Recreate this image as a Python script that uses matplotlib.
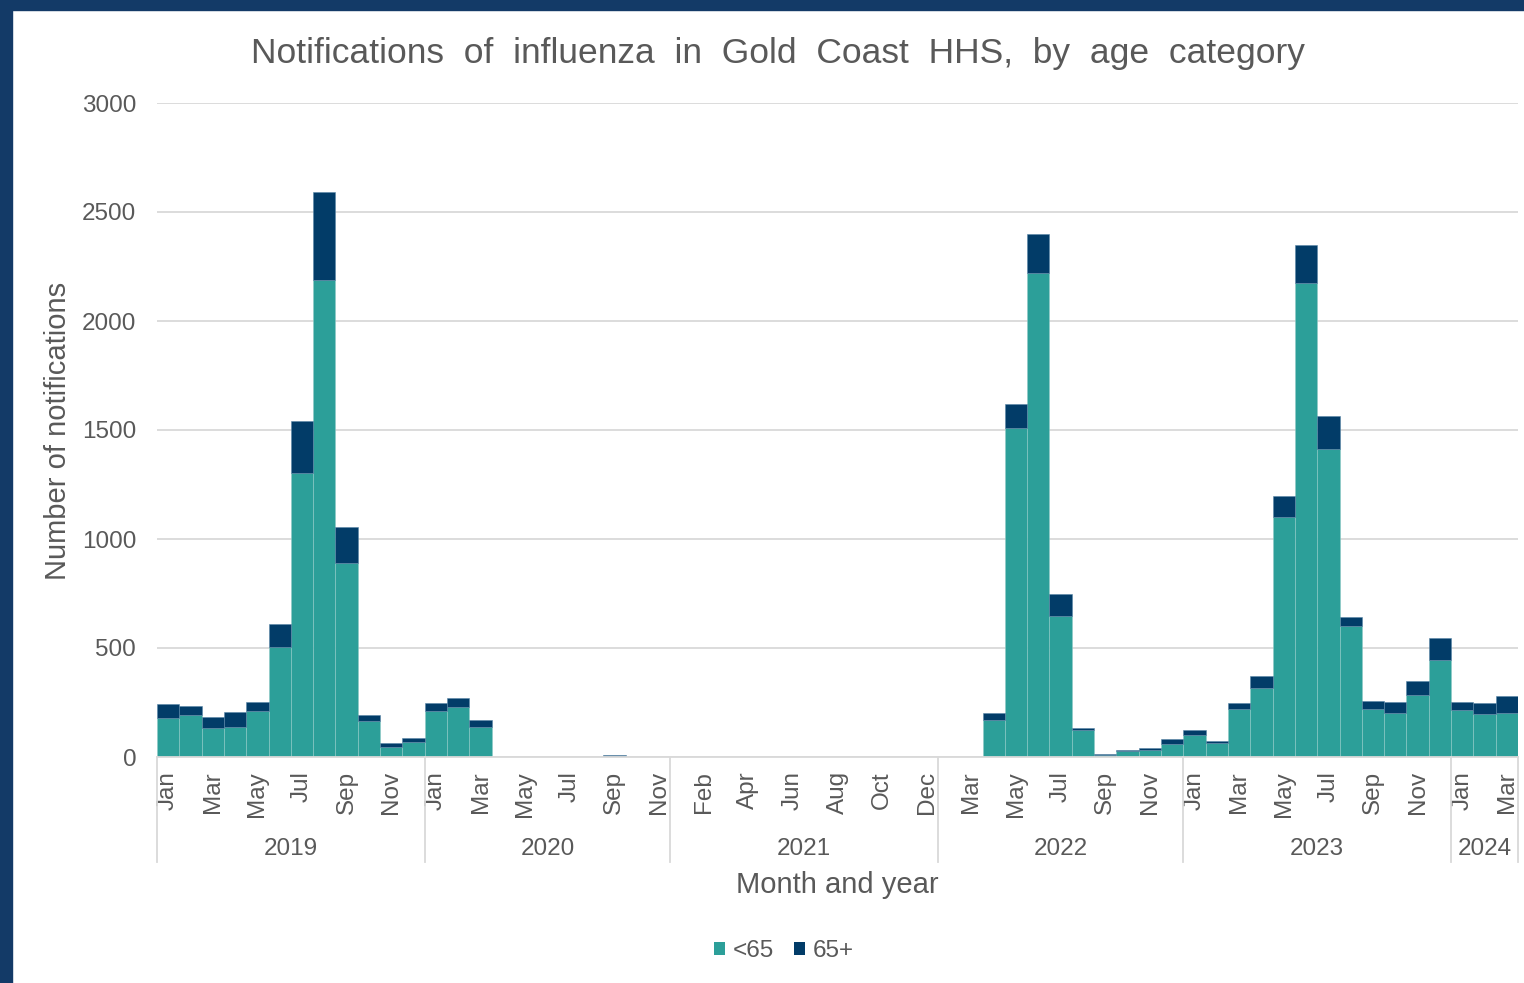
import numpy as np
import matplotlib.pyplot as plt
from matplotlib.patches import Patch, Rectangle
from matplotlib.transforms import blended_transform_factory

plt.rcParams['font.family'] = ['Liberation Sans', 'DejaVu Sans']

TEAL = '#2c9f99'
NAVY = '#023c68'
FRAME = '#133a67'
GREY_TEXT = '#595959'
GRID = '#d9d9d9'

MONTHS = ['Jan', 'Feb', 'Mar', 'Apr', 'May', 'Jun',
          'Jul', 'Aug', 'Sep', 'Oct', 'Nov', 'Dec']

# months present for each year (2020 stops at Nov, 2022 starts at Feb)
years = ['2019', '2020', '2021', '2022', '2023', '2024']
year_months = [MONTHS[0:12], MONTHS[0:11], MONTHS[0:12],
               MONTHS[1:12], MONTHS[0:12], MONTHS[0:3]]

under65 = [
    # 2019
    180, 191, 131, 138, 213, 506, 1303, 2188, 890, 164, 47, 67,
    # 2020
    211, 228, 138, 0, 0, 0, 0, 0, 4, 0, 0,
    # 2021
    0, 0, 0, 0, 0, 0, 0, 0, 0, 0, 0, 0,
    # 2022
    0, 0, 170, 1510, 2218, 648, 123, 11, 26, 32, 58,
    # 2023
    100, 63, 219, 316, 1101, 2176, 1415, 600, 219, 203, 285, 444,
    # 2024
    216, 197, 203,
]

over65 = [
    # 2019
    63, 43, 54, 67, 41, 106, 238, 405, 165, 27, 16, 22,
    # 2020
    38, 41, 30, 0, 0, 0, 0, 0, 4, 0, 0,
    # 2021
    0, 0, 0, 0, 0, 0, 0, 0, 0, 0, 0, 0,
    # 2022
    0, 0, 32, 109, 183, 102, 11, 4, 6, 7, 23,
    # 2023
    24, 10, 27, 54, 95, 173, 150, 44, 38, 48, 65, 102,
    # 2024
    35, 50, 75,
]

month_labels = [m for ms in year_months for m in ms]
x = np.arange(len(month_labels))
under65 = np.array(under65)
over65 = np.array(over65)

fig = plt.figure(figsize=(15.24, 9.83), dpi=100)
ax = fig.add_axes([157 / 1524, 1 - 757 / 983, 1361 / 1524, 654 / 983])

ax.bar(x, under65, width=1.0, color=TEAL, edgecolor='#8fcac6', linewidth=0.4)
ax.bar(x, over65, width=1.0, bottom=under65, color=NAVY,
       edgecolor='#5a87a8', linewidth=0.4)

ax.set_xlim(-0.5, len(x) - 0.5)
ax.set_ylim(0, 3000)
ax.set_yticks(np.arange(0, 3001, 500))
ax.yaxis.grid(True, color=GRID, linewidth=1.3)
ax.set_axisbelow(True)
for side in ['top', 'right', 'left']:
    ax.spines[side].set_visible(False)
ax.spines['bottom'].set_color(GRID)
ax.spines['bottom'].set_linewidth(1.3)

# every other month gets a label
ax.set_xticks(x[::2])
ax.set_xticklabels(month_labels[::2], rotation=90, va='top')
ax.tick_params(axis='x', length=0, pad=10, labelsize=17.5, labelcolor=GREY_TEXT)
ax.tick_params(axis='y', length=0, pad=15, labelsize=17.5, labelcolor=GREY_TEXT)

# year level of the category axis
trans = blended_transform_factory(ax.transData, ax.transAxes)
edges = np.cumsum([0] + [len(ms) for ms in year_months]) - 0.5
for b in edges:
    ax.plot([b, b], [0, -0.16], transform=trans, color=GRID,
            linewidth=1.3, clip_on=False)
for i, yr in enumerate(years):
    ax.text((edges[i] + edges[i + 1]) / 2, -0.141, yr, transform=trans,
            ha='center', va='center', fontsize=17.5, color=GREY_TEXT)

ax.text(0.5, -0.196, 'Month and year', transform=ax.transAxes,
        ha='center', va='center', fontsize=21, color=GREY_TEXT)
fig.text(58 / 1524, 1 - 431 / 983, 'Number of notifications', rotation=90,
         ha='center', va='center', fontsize=21, color=GREY_TEXT)

fig.text(778 / 1524, 1 - 53 / 983,
         'Notifications  of  influenza  in  Gold  Coast  HHS,  by  age  category',
         ha='center', va='center', fontsize=25.5, color=GREY_TEXT)

handles = [Patch(facecolor=TEAL, label='<65'), Patch(facecolor=NAVY, label='65+')]
fig.legend(handles=handles, loc='center', bbox_to_anchor=(784 / 1524, 1 - 951 / 983),
           ncol=2, frameon=False, fontsize=17.5, labelcolor=GREY_TEXT,
           handlelength=0.45, handleheight=0.45, handletextpad=0.35,
           columnspacing=0.8)

# dark frame along the top and left edges
fig.patches.append(Rectangle((0, 1 - 10 / 983), 1, 10 / 983,
                             transform=fig.transFigure, color=FRAME, zorder=10))
fig.patches.append(Rectangle((0, 0), 12 / 1524, 1,
                             transform=fig.transFigure, color=FRAME, zorder=10))

fig.savefig('out.png', dpi=100)
